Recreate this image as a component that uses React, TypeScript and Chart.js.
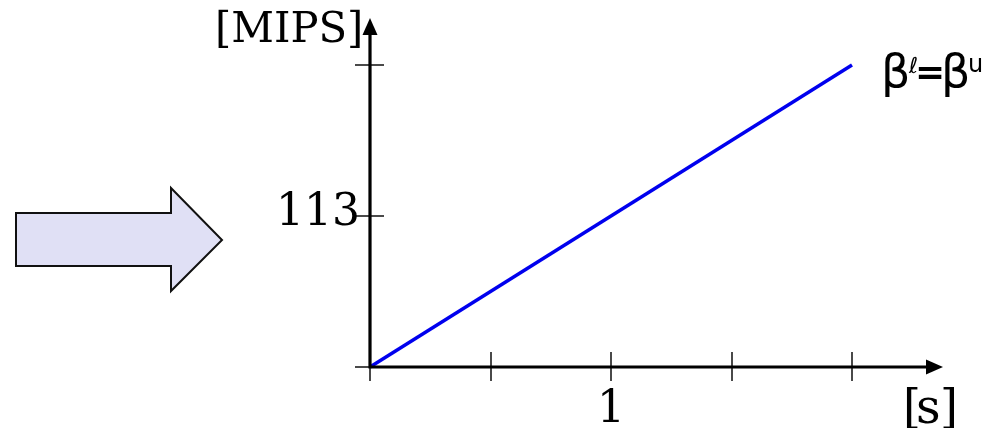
import React, { useEffect, useRef } from "react";
import { Chart, registerables } from "chart.js";

Chart.register(...registerables);

// Series: processing capacity growing linearly with time
const times = [0, 2];
const mips = [0, 226];

// Tick positions and their printed labels
const xTicks = [0, 0.5, 1, 1.5, 2];
const xTickLabels = ["", "", "1", "", ""];
const yTicks = [0, 113, 226];
const yTickLabels = ["", "113", ""];

const xTitle = ["[", "s", "]"];
const yTitle = "[MIPS]";

const SERIF = "'DejaVu Serif', serif";
const SANS = "'DejaVu Sans', sans-serif";

// draw text so that its inked left edge sits at x
function inkLeft(ctx: CanvasRenderingContext2D, t: string, font: string, x: number, y: number) {
  ctx.font = font;
  ctx.textAlign = "left";
  const m = ctx.measureText(t);
  ctx.fillText(t, x + m.actualBoundingBoxLeft, y);
}

// draw text so that its inked right edge sits at x
function inkRight(ctx: CanvasRenderingContext2D, t: string, font: string, x: number, y: number) {
  ctx.font = font;
  ctx.textAlign = "left";
  const m = ctx.measureText(t);
  ctx.fillText(t, x - m.actualBoundingBoxRight, y);
}

const axesPlugin = {
  id: "arrowAxes",
  afterDatasetsDraw(chart: any) {
    const ctx = chart.ctx as CanvasRenderingContext2D;
    const xs = chart.scales.x;
    const ys = chart.scales.y;
    const ox = xs.getPixelForValue(0);
    const oy = ys.getPixelForValue(0);
    const xEnd = 943;
    const yEnd = 18;
    ctx.save();

    // block arrow on the left
    ctx.beginPath();
    ctx.moveTo(16, 213);
    ctx.lineTo(171, 213);
    ctx.lineTo(171, 188);
    ctx.lineTo(222, 240);
    ctx.lineTo(171, 291);
    ctx.lineTo(171, 266);
    ctx.lineTo(16, 266);
    ctx.closePath();
    ctx.fillStyle = "#e0e0f5";
    ctx.fill();
    ctx.lineWidth = 2;
    ctx.strokeStyle = "#111";
    ctx.lineJoin = "miter";
    ctx.stroke();

    // tick marks crossing the axes
    ctx.strokeStyle = "#4a4a4a";
    ctx.lineWidth = 2;
    xTicks.forEach((v) => {
      const px = Math.round(xs.getPixelForValue(v));
      ctx.beginPath();
      ctx.moveTo(px, oy - 15);
      ctx.lineTo(px, oy + 14);
      ctx.stroke();
    });
    yTicks.forEach((v) => {
      const py = Math.round(ys.getPixelForValue(v));
      ctx.beginPath();
      ctx.moveTo(ox - 15, py);
      ctx.lineTo(ox + 14, py);
      ctx.stroke();
    });

    // axis lines
    ctx.strokeStyle = "#000";
    ctx.lineWidth = 3.2;
    ctx.lineCap = "butt";
    ctx.beginPath();
    ctx.moveTo(ox - 1.6, oy);
    ctx.lineTo(xEnd - 10, oy);
    ctx.moveTo(ox, oy + 1.6);
    ctx.lineTo(ox, yEnd + 10);
    ctx.stroke();

    // arrow heads
    ctx.fillStyle = "#000";
    ctx.beginPath();
    ctx.moveTo(xEnd, oy);
    ctx.lineTo(xEnd - 17, oy - 7.5);
    ctx.lineTo(xEnd - 17, oy + 7.5);
    ctx.closePath();
    ctx.fill();
    ctx.beginPath();
    ctx.moveTo(ox, yEnd);
    ctx.lineTo(ox - 7.5, yEnd + 17);
    ctx.lineTo(ox + 7.5, yEnd + 17);
    ctx.closePath();
    ctx.fill();

    // tick labels
    ctx.fillStyle = "#000";
    ctx.textBaseline = "alphabetic";
    xTicks.forEach((v, i) => {
      if (!xTickLabels[i]) return;
      ctx.font = `44px ${SERIF}`;
      ctx.textAlign = "center";
      ctx.fillText(xTickLabels[i], xs.getPixelForValue(v), 422);
    });
    yTicks.forEach((v, i) => {
      if (!yTickLabels[i]) return;
      inkRight(ctx, yTickLabels[i], `44px ${SERIF}`, ox - 13, ys.getPixelForValue(v) + 9);
    });

    // axis titles
    ctx.font = `42px ${SERIF}`;
    ctx.textAlign = "left";
    {
      ctx.save();
      const m = ctx.measureText(yTitle);
      const w = m.actualBoundingBoxLeft + m.actualBoundingBoxRight;
      const sx = 142 / w;
      ctx.translate(218, 42);
      ctx.scale(sx, 1);
      ctx.fillText(yTitle, m.actualBoundingBoxLeft, 0);
      ctx.restore();
    }
    inkLeft(ctx, xTitle[0], `46px ${SERIF}`, 906, 423);
    inkLeft(ctx, xTitle[1], `48px ${SERIF}`, 918, 423);
    inkLeft(ctx, xTitle[2], `46px ${SERIF}`, 943, 423);

    // series label: β^ℓ = β^u
    const ly = 87;
    inkLeft(ctx, "β", `46px ${SANS}`, 885, ly);
    inkLeft(ctx, "ℓ", `22px ${SANS}`, 908, ly - 14);
    inkLeft(ctx, "=", `bold 36px ${SANS}`, 918, ly - 3);
    inkLeft(ctx, "β", `46px ${SANS}`, 945, ly);
    inkLeft(ctx, "u", `24px ${SANS}`, 970, ly - 15);

    ctx.restore();
  },
};

export default function App() {
  const ref = useRef<HTMLCanvasElement | null>(null);

  useEffect(() => {
    if (!ref.current) return;
    const chart = new Chart(ref.current, {
      type: "line",
      data: {
        datasets: [
          {
            data: times.map((t, i) => ({ x: t, y: mips[i] })),
            borderColor: "#0000ee",
            borderWidth: 3.5,
            pointRadius: 0,
            fill: false,
            clip: false,
          } as any,
        ],
      },
      options: {
        responsive: false,
        animation: false,
        layout: { padding: { left: 370, right: 150, top: 65, bottom: 61 } },
        plugins: { legend: { display: false }, tooltip: { enabled: false } },
        scales: {
          x: { type: "linear", min: 0, max: 2, display: false },
          y: { type: "linear", min: 0, max: 226, display: false },
        },
      },
      plugins: [axesPlugin],
    });
    return () => chart.destroy();
  }, []);

  return (
    <div style={{ position: "absolute", left: 0, top: 0, width: 1002, height: 428, background: "#fff" }}>
      <canvas ref={ref} width={1002} height={428} />
    </div>
  );
}
